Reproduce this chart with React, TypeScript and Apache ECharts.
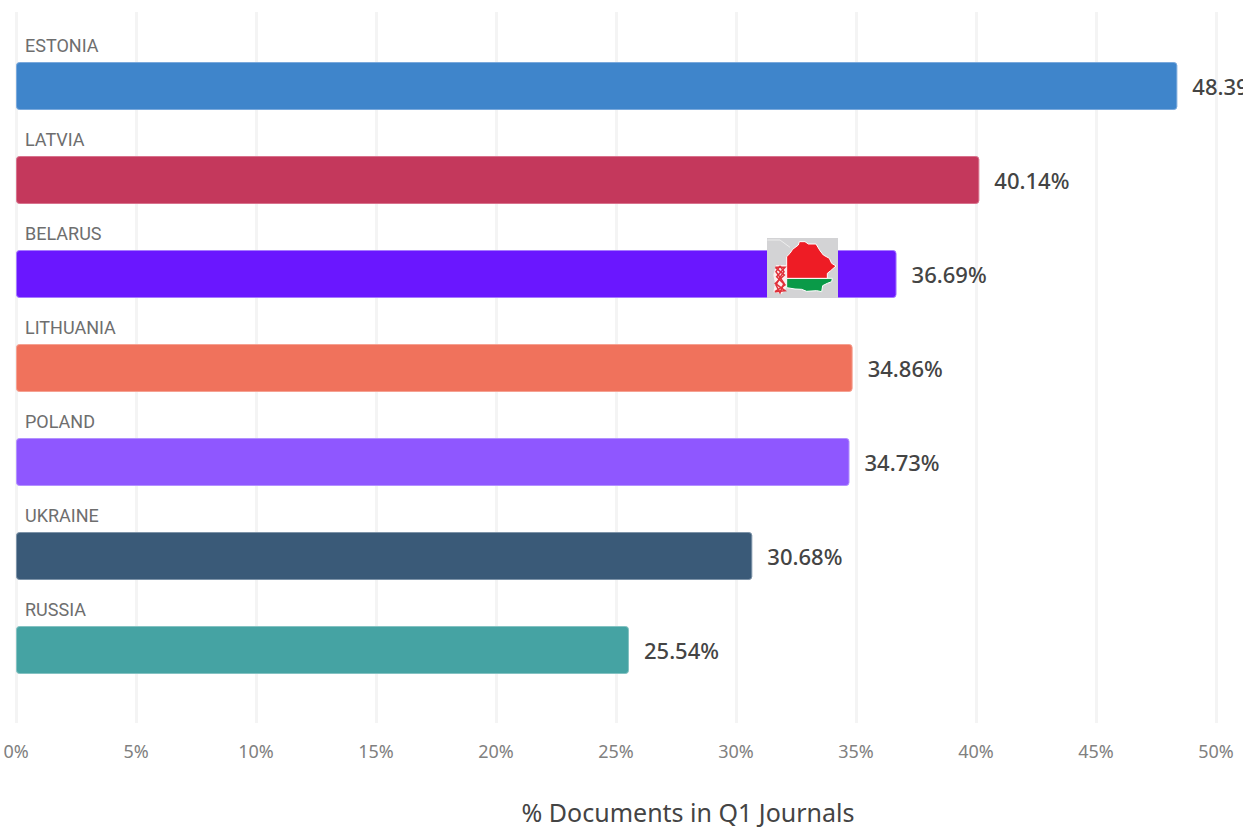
import React, { useEffect, useRef } from "react";
import * as echarts from "echarts";

const countries = ["ESTONIA", "LATVIA", "BELARUS", "LITHUANIA", "POLAND", "UKRAINE", "RUSSIA"];
const shares = [48.39, 40.14, 36.69, 34.86, 34.73, 30.68, 25.54];
const barColors = ["#3f85cb", "#c4385c", "#6a17ff", "#f0725c", "#8f57ff", "#3a5a78", "#45a3a3"];
const borderColors = ["#7aa9dc", "#d8728d", "#a67aff", "#f5a192", "#b391ff", "#7d93a8", "#84c2c2"];
const axisTitle = "% Documents in Q1 Journals";

const pt = (x: number, y: number) => [740 + x / 3, 220 + y / 3];
const redShape = [[140,110],[150,100],[158,88],[175,75],[178,65],[195,65],[205,72],[228,72],[240,92],[250,105],[268,115],[275,130],[288,138],[272,152],[262,160],[262,175],[140,175]].map(p => pt(p[0], p[1]));
const greenShape = [[140,175],[277,175],[275,185],[262,190],[248,197],[245,215],[230,212],[200,214],[185,208],[165,207],[140,203]].map(p => pt(p[0], p[1]));
const ornamentBack = [[108,135],[138,135],[138,205],[125,222],[100,215],[105,190],[100,165]].map(p => pt(p[0], p[1]));
const ornamentA = [[106,142],[135,142],[110,170],[135,195],[105,215],[135,212],[106,190],[133,165],[106,142]].map(p => pt(p[0], p[1]));
const ornamentB = [[120,138],[132,155],[120,172],[132,190],[120,218],[108,195],[120,172],[108,155],[120,138]].map(p => pt(p[0], p[1]));
const borderLine = [[82,60],[120,60],[150,82]].map(p => pt(p[0], p[1]));

export default function App() {
  const ref = useRef<HTMLDivElement>(null);
  useEffect(() => {
    document.body.style.margin = "0";
    const chart = echarts.init(ref.current!, undefined, { renderer: "svg" });
    chart.setOption({
      animation: false,
      backgroundColor: "#ffffff",
      title: {
        text: axisTitle,
        left: 683,
        top: 794,
        textAlign: "center",
        textStyle: { fontFamily: "Noto Sans", fontSize: 25, lineHeight: 26, fontWeight: "normal", color: "#444" },
      },
      grid: [
        { left: 16, top: 12, width: 1200, height: 711 },
        { left: 16, top: 39, width: 1200, height: 658 },
      ],
      xAxis: [
        {
          gridIndex: 0, type: "value", min: 0, max: 50, interval: 5,
          axisLine: { show: false }, axisTick: { show: false },
          splitLine: { show: true, lineStyle: { color: "#f4f4f4", width: 3 } },
          axisLabel: { formatter: "{value}%", fontFamily: "Noto Sans", fontSize: 18, color: "#808080", margin: 19 },
        },
        { gridIndex: 1, type: "value", min: 0, max: 50, show: false },
      ],
      yAxis: [
        { gridIndex: 0, type: "value", show: false },
        {
          gridIndex: 1, type: "category", inverse: true, data: countries,
          axisLine: { show: false }, axisTick: { show: false },
          axisLabel: {
            inside: true, margin: 9, fontFamily: "Roboto", fontSize: 18, color: "#6e6e6e",
            verticalAlign: "bottom", padding: [0, 0, 32, 0],
          },
          z: 5,
        },
      ],
      series: [
        {
          type: "bar", xAxisIndex: 1, yAxisIndex: 1, barWidth: 48,
          data: shares.map((v, i) => ({
            value: v,
            itemStyle: { color: barColors[i], borderColor: borderColors[i], borderWidth: 1, borderRadius: 3 },
          })),
          label: {
            show: true, position: "right", distance: 15,
            formatter: (p: any) => p.value.toFixed(2) + "%",
            fontFamily: "Noto Sans", fontSize: 22, fontWeight: 500, color: "#444",
          },
        },
      ],
      graphic: [
        {
          type: "group",
          children: [
            { type: "rect", z: 10, shape: { x: 767, y: 238, width: 71, height: 60 }, style: { fill: "#d3d3d5" } },
            { type: "polyline", z: 11, shape: { points: borderLine }, style: { stroke: "#eeeeee", lineWidth: 1, fill: "none" } },
            { type: "polygon", z: 11, shape: { points: ornamentBack }, style: { fill: "#fbeeee" } },
            { type: "polygon", z: 12, shape: { points: greenShape }, style: { fill: "#0a9a48", stroke: "#ffffff", lineWidth: 1 } },
            { type: "polygon", z: 12, shape: { points: redShape }, style: { fill: "#ee1c25", stroke: "#ffffff", lineWidth: 1 } },
            { type: "polyline", z: 13, shape: { points: ornamentA }, style: { stroke: "#e0303a", lineWidth: 1.5, fill: "none" } },
            { type: "polyline", z: 13, shape: { points: ornamentB }, style: { stroke: "#e0303a", lineWidth: 1.5, fill: "none" } },
          ],
        },
      ],
    });
    return () => chart.dispose();
  }, []);
  return (
    <div style={{ width: 1247, height: 827, background: "#fff", overflow: "hidden" }}>
      <div ref={ref} style={{ width: 1243, height: 827 }} />
    </div>
  );
}
